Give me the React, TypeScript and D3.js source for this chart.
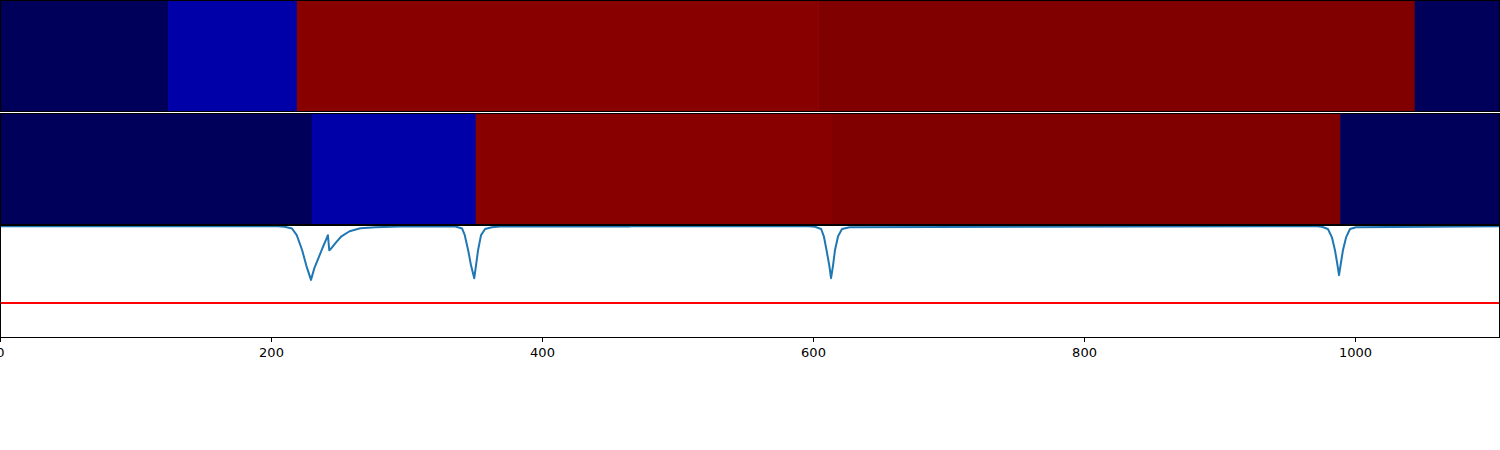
import React, { useEffect, useRef } from 'react';
import * as d3 from 'd3';

// x extent of the sample axis
const xMax = 1107;
const xTicks = [0, 200, 400, 600, 800, 1000];

// heat strips: segment start / end and the value mapped through a seismic-like colormap
const topStarts = [0, 124, 219, 604, 1044];
const topEnds = [124, 219, 604, 1044, 1107];
const topValues = [0.02, 0.128, 0.983, 1.0, 0.02];

const midStarts = [0, 230, 351, 614, 989];
const midEnds = [230, 351, 614, 989, 1107];
const midValues = [0.02, 0.128, 0.983, 1.0, 0.02];

// response trace
const traceX = [
  0, 205, 210, 215.5, 219, 223, 226, 229.5, 232, 235, 238, 240.5, 242, 243, 244, 248, 252, 258, 266, 277, 295,
  336, 341, 343, 345.5, 347.6, 350, 351.3, 352.8, 355, 358, 363, 369,
  464, 466,
  597, 601.5, 606, 608, 610, 612, 613.3, 614.8, 616.2, 618.5, 621.4, 627,
  972, 975.6, 980, 983, 985.2, 986.7, 988.2, 989.7, 991.1, 993.4, 996.3, 1000.7, 1107,
];
const traceY = [
  0, 0, -0.01, -0.04, -0.16, -0.43, -0.7, -0.96, -0.75, -0.57, -0.39, -0.25, -0.16, -0.43, -0.41, -0.29, -0.18, -0.09, -0.036, -0.018, -0.005,
  -0.005, -0.04, -0.16, -0.43, -0.7, -0.93, -0.7, -0.43, -0.16, -0.05, -0.018, -0.003,
  -0.003, -0.001,
  0, -0.01, -0.05, -0.18, -0.43, -0.7, -0.93, -0.7, -0.43, -0.18, -0.05, -0.018,
  0, -0.01, -0.05, -0.2, -0.43, -0.64, -0.875, -0.64, -0.43, -0.2, -0.05, -0.018, 0,
];
const threshold = -1.375;

const W = 1500;
const panelH = 112;

const App = () => {
  const ref = useRef<SVGSVGElement>(null);

  useEffect(() => {
    const svg = d3.select(ref.current);
    svg.selectAll('*').remove();

    const x = d3.scaleLinear().domain([0, xMax]).range([0, W]);
    const seismic = d3
      .scaleLinear<string>()
      .domain([0, 0.25, 0.5, 0.75, 1])
      .range(['#00004d', '#0000ff', '#ffffff', '#ff0000', '#800000']);

    const strips = [
      { top: 0, starts: topStarts, ends: topEnds, values: topValues },
      { top: 113, starts: midStarts, ends: midEnds, values: midValues },
    ];

    strips.forEach((s) => {
      const g = svg.append('g').attr('transform', `translate(0,${s.top})`);
      g.selectAll('rect.cell')
        .data(s.values)
        .join('rect')
        .attr('class', 'cell')
        .attr('x', (_, i) => x(s.starts[i]))
        .attr('width', (_, i) => x(s.ends[i]) - x(s.starts[i]) + 0.5)
        .attr('y', 0)
        .attr('height', panelH)
        .attr('fill', (d) => seismic(d));
      g.append('rect')
        .attr('x', 0.5)
        .attr('y', 0.5)
        .attr('width', W - 1)
        .attr('height', panelH - 1)
        .attr('fill', 'none')
        .attr('stroke', 'black')
        .attr('stroke-width', 1);
    });

    // trace panel
    const top3 = 226;
    const y = d3.scaleLinear().domain([-2, 0.004]).range([top3 + panelH, top3]);
    svg.append('clipPath').attr('id', 'clip3').append('rect')
      .attr('x', 0).attr('y', top3).attr('width', W).attr('height', panelH);

    const g3 = svg.append('g').attr('clip-path', 'url(#clip3)');
    g3.append('line')
      .attr('x1', x(0)).attr('x2', x(xMax))
      .attr('y1', y(threshold)).attr('y2', y(threshold))
      .attr('stroke', 'red').attr('stroke-width', 2);

    const line = d3.line<number>()
      .x((_, i) => x(traceX[i]))
      .y((d) => y(d));
    g3.append('path')
      .datum(traceY)
      .attr('d', line)
      .attr('fill', 'none')
      .attr('stroke', '#1f77b4')
      .attr('stroke-width', 2)
      .attr('stroke-linejoin', 'round');

    // spines
    svg.append('rect')
      .attr('x', 0.5).attr('y', top3 - 0.5)
      .attr('width', W - 1).attr('height', panelH)
      .attr('fill', 'none').attr('stroke', 'black').attr('stroke-width', 1);

    const axis = d3.axisBottom(x).tickValues(xTicks).tickSize(4.5).tickPadding(6).tickFormat(d3.format('d'));
    const ax = svg.append('g')
      .attr('transform', `translate(0,${top3 + panelH - 0.5})`)
      .call(axis)
      .attr('font-family', 'DejaVu Sans, sans-serif')
      .attr('font-size', 13);
    ax.select('.domain').remove();
    ax.selectAll('text')
      .style('font-family', 'DejaVu Sans, sans-serif')
      .style('font-size', '13px')
      .attr('fill', 'black');
    ax.selectAll('line').attr('stroke', 'black');
  }, []);

  return (
    <svg
      ref={ref}
      width={W}
      height={450}
      style={{ position: 'absolute', left: 0, top: 0, background: 'white' }}
    />
  );
};

export default App;
